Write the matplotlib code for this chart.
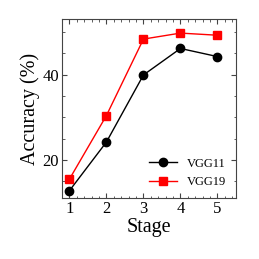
import matplotlib
matplotlib.use("Agg")
import matplotlib.pyplot as plt
from matplotlib.ticker import MultipleLocator

stages = [1, 2, 3, 4, 5]
vgg11 = [12.8, 24.2, 39.9, 46.1, 44.2]
vgg19 = [15.5, 30.4, 48.3, 49.7, 49.2]

plt.rcParams['font.family'] = ['Liberation Serif', 'DejaVu Serif']
plt.rcParams['mathtext.fontset'] = 'stix'

fig = plt.figure(figsize=(2.59, 2.59), dpi=100)
ax = fig.add_axes([62/259, 1-198/259, (236-62)/259, (198-19)/259])
ax.plot(stages, vgg11, color='black', marker='o', markersize=6, lw=1, label='VGG11')
ax.plot(stages, vgg19, color='red', marker='s', markersize=6, lw=1, label='VGG19')
ax.set_xlim(0.8, 5.5)
ax.set_ylim(11.1, 53.0)
ax.set_xticks(stages)
ax.set_yticks([20, 40])
ax.xaxis.set_minor_locator(MultipleLocator(0.2))
ax.yaxis.set_minor_locator(MultipleLocator(5))
ax.tick_params(which='both', direction='in', top=True, right=True, labelsize=12, color='#444444', pad=2)
ax.tick_params(which='major', length=3.5)
ax.tick_params(which='minor', length=1.8)
for s in ax.spines.values():
    s.set_color('#444444')
    s.set_linewidth(0.8)
ax.set_xlabel('Stage', fontsize=14.5, labelpad=1)
ax.set_ylabel('Accuracy (%)', fontsize=14.5, labelpad=2)
ax.legend(loc='lower right', frameon=False, fontsize=9, handlelength=2.2, borderaxespad=0.4)
fig.savefig('out.png', dpi=100)
